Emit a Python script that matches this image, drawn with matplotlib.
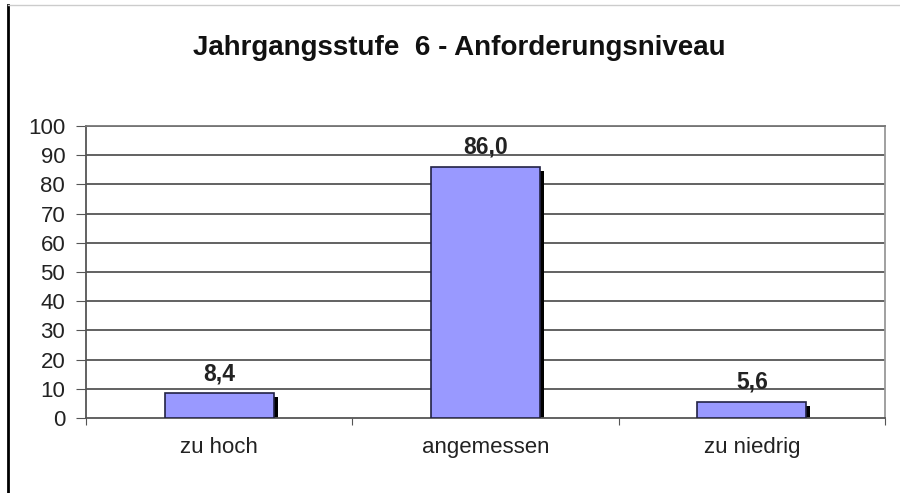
import matplotlib
matplotlib.use("Agg")
import matplotlib.pyplot as plt
from matplotlib.lines import Line2D
import matplotlib.transforms as mtransforms

categories = ["zu hoch", "angemessen", "zu niedrig"]
values = [8.4, 86.0, 5.6]
value_labels = ["8,4", "86,0", "5,6"]
yticks = [0, 10, 20, 30, 40, 50, 60, 70, 80, 90, 100]

plt.rcParams['font.family'] = ['Liberation Sans', 'DejaVu Sans']

fig = plt.figure(figsize=(9, 4.93), dpi=100)
ax = fig.add_axes([86/900, 1-418/493, 799/900, 292/493])

x = list(range(len(categories)))
ax.set_xlim(-0.5, 2.5)
ax.set_ylim(0, 100)

for y in yticks[1:]:
    ax.axhline(y, color="#555555", lw=1.3, zorder=1)

# shadows
shadow = mtransforms.offset_copy(ax.transData, fig=fig, x=4, y=-4, units='dots')
ax.bar(x, values, width=0.41, color="black", zorder=2, transform=shadow)
ax.bar(x, values, width=0.41, color="#9999ff", edgecolor="#222244", lw=1.2, zorder=3)

for xi, v, lab in zip(x, values, value_labels):
    ax.annotate(lab, (xi, v), xytext=(0, 6), textcoords="offset points",
                ha="center", va="bottom", fontsize=16.5, fontweight="bold", color="#222222")

ax.set_yticks(yticks)
ax.set_yticklabels([str(t) for t in yticks], fontsize=16, color="#222222")
ax.set_xticks([-0.5, 0.5, 1.5, 2.5], minor=False)
ax.set_xticklabels([])
ax.set_xticks(x, minor=True)
ax.set_xticklabels(categories, minor=True, fontsize=16, color="#222222")
ax.tick_params(axis="x", which="minor", length=0, pad=14)
ax.tick_params(axis="x", which="major", length=5, color="#555555", direction="out")
ax.tick_params(axis="y", length=7, color="#555555", direction="out", pad=8)

ax.spines["top"].set_color("#777777")
ax.spines["left"].set_color("#555555")
ax.spines["bottom"].set_color("#555555")
ax.spines["right"].set_color("#999999")
for sp in ax.spines.values():
    sp.set_linewidth(1.3)

fig.text(459/900, 1-48/493, "Jahrgangsstufe  6 - Anforderungsniveau", ha="center", va="center",
         fontsize=20, fontweight="bold", color="#111111")

# outer frame lines
fig.add_artist(Line2D([8/900, 8/900], [1-5/493, 0.0], color="black", lw=2))
fig.add_artist(Line2D([8/900, 1.0], [1-5/493, 1-5/493], color="#cccccc", lw=1))

fig.savefig("out.png", dpi=100)
